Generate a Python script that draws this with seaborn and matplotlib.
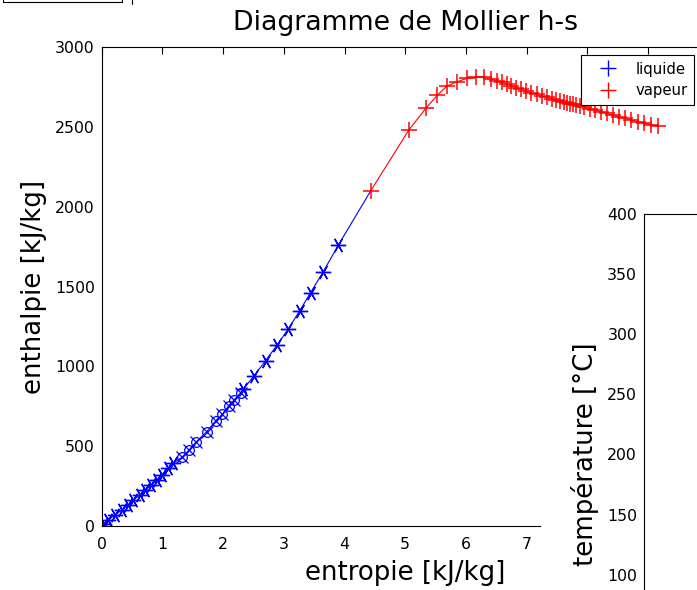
# Mollier h-s diagram (liquid / vapour branches) with a second, partly hidden window

import seaborn as sns
import matplotlib.pyplot as plt
from matplotlib.lines import Line2D
from matplotlib.patches import Rectangle
from matplotlib.ticker import FuncFormatter

# --- data ---
# liquid branch, points drawn with asterisks
s_liq_star = [0.03, 0.11, 0.22, 0.33, 0.44, 0.52, 0.63, 0.71, 0.82, 0.91, 0.99, 1.10, 1.18,
              2.33, 2.51, 2.70, 2.89, 3.07, 3.26, 3.44, 3.65, 3.90]
h_liq_star = [13, 38, 69, 100, 132, 163, 194, 225, 257, 288, 319, 361, 393,
              856, 941, 1035, 1134, 1232, 1347, 1461, 1593, 1760]
# liquid branch, points drawn with circles
s_liq_circ = [1.32, 1.44, 1.56, 1.73, 1.88, 1.99, 2.09, 2.18, 2.29]
h_liq_circ = [430, 476, 528, 591, 659, 701, 752, 789, 835]
# vapour branch
s_vap = [4.43, 5.06, 5.34, 5.53, 5.69, 5.86, 6.02, 6.16, 6.29, 6.42, 6.51, 6.59, 6.67, 6.75,
         6.83, 6.91, 6.99, 7.08, 7.17, 7.26, 7.34, 7.42, 7.49, 7.55, 7.61, 7.66, 7.71, 7.76,
         7.82, 7.88, 7.95, 8.04, 8.13, 8.22, 8.32, 8.42, 8.52, 8.62, 8.72, 8.83, 8.94, 9.05, 9.17]
h_vap = [2098, 2480, 2616, 2699, 2756, 2783, 2804, 2810, 2810, 2798, 2789, 2778, 2768, 2757,
         2746, 2735, 2724, 2713, 2703, 2693, 2684, 2676, 2668, 2662, 2656, 2651, 2646, 2641,
         2636, 2630, 2622, 2613, 2604, 2595, 2584, 2574, 2564, 2553, 2543, 2532, 2522, 2513, 2505]

x_ticks = list(range(0, 11))
y_ticks = list(range(0, 3001, 500))
t_ticks = list(range(0, 401, 50))
x_label_max = 7      # labels further right sit under the other window
t_label_min = 100    # labels lower down fall off the screenshot

# --- style ---
sns.set_style("white", rc={"xtick.direction": "in", "ytick.direction": "in",
                           "text.color": "black", "axes.labelcolor": "black",
                           "xtick.color": "black", "ytick.color": "black"})
plt.rcParams['font.family'] = ['DejaVu Sans']

W, H = 697, 590
fig = plt.figure(figsize=(W / 100, H / 100), dpi=100)

def px(x0, y0, x1, y1):
    # pixel box (top-left origin) -> figure fraction rect
    return [x0 / W, 1 - y1 / H, (x1 - x0) / W, (y1 - y0) / H]

# main axes (extends past the right edge, like the screenshot)
ax = fig.add_axes(px(101.7, 47, 708.7, 526), zorder=0)

# liquid line from the origin up to the first vapour point
s_line = sorted([0.0] + s_liq_star + s_liq_circ) + [s_vap[0]]
h_line = sorted([0] + h_liq_star + h_liq_circ) + [h_vap[0]]
sns.lineplot(x=s_line, y=h_line, ax=ax, color="blue", lw=0.8, sort=False, estimator=None)
ax.plot(s_liq_star, h_liq_star, ls="none", marker=(6, 2, 90), ms=11, mew=1.0, color="blue")
ax.plot(s_liq_circ, h_liq_circ, ls="none", marker="o", ms=7, mew=0.9, mfc="none", color="blue")
ax.plot(s_liq_circ, h_liq_circ, ls="none", marker="x", ms=9, mew=0.9, color="blue")

sns.lineplot(x=s_vap, y=h_vap, ax=ax, color="red", lw=0.8, sort=False, estimator=None)
ax.plot(s_vap, h_vap, ls="none", marker="+", ms=12, mew=1.1, color="red")

ax.set_xlim(0, 10)
ax.set_ylim(0, 3000)
ax.set_xticks(x_ticks)
ax.set_yticks(y_ticks)
ax.xaxis.set_major_formatter(FuncFormatter(lambda v, p: f"{v:g}" if v <= x_label_max else ""))
ax.tick_params(direction="in", length=5, width=0.8, labelsize=11.3, colors="black",
               top=True, right=True, pad=8)
ax.tick_params(axis="y", pad=5)
for sp in ax.spines.values():
    sp.set_color("black")
    sp.set_linewidth(0.8)

ax.set_title("Diagramme de Mollier h-s", fontsize=19.3, pad=12, color="black")
ax.set_xlabel("entropie [kJ/kg]", fontsize=18.7, labelpad=6)
ax.set_ylabel("enthalpie [kJ/kg]", fontsize=18.7, labelpad=6)

handles = [Line2D([], [], color="blue", marker="+", ls="none", ms=11, mew=1.0),
           Line2D([], [], color="red", marker="+", ls="none", ms=11, mew=1.0)]
leg = ax.legend(handles, ["liquide", "vapeur"], loc="upper left",
                bbox_to_anchor=(581 / W, 1 - 55 / H), bbox_transform=fig.transFigure,
                fontsize=10.7, frameon=True, fancybox=False, framealpha=1,
                edgecolor="black", borderpad=0.45, labelspacing=0.45,
                handlelength=2.7, handletextpad=0.5, borderaxespad=0)
leg.get_frame().set_linewidth(0.8)

# the overlapping second window
fig.add_artist(Rectangle((541 / W, 0), 1, 1 - 170 / H, transform=fig.transFigure,
                         facecolor="white", edgecolor="none", zorder=1))

ax2 = fig.add_axes(px(644, 214, 900, 695), zorder=2)
ax2.set_facecolor("white")
ax2.set_ylim(0, 400)
ax2.set_yticks(t_ticks)
ax2.yaxis.set_major_formatter(FuncFormatter(lambda v, p: f"{v:g}" if v >= t_label_min else ""))
ax2.set_xticks([])
ax2.tick_params(axis="y", direction="in", length=5, width=0.8, labelsize=11.3, pad=5,
                colors="black")
for sp in ax2.spines.values():
    sp.set_color("black")
    sp.set_linewidth(0.8)
ax2.set_ylabel("température [°C]", fontsize=18.7, labelpad=6)

# bit of another window frame in the top-left corner
fig.add_artist(Line2D([3 / W, 3 / W, 122 / W, 122 / W], [1, 1 - 2 / H, 1 - 2 / H, 1],
                      transform=fig.transFigure, color="black", lw=0.8))
fig.add_artist(Line2D([132 / W, 132 / W], [1, 1 - 4 / H],
                      transform=fig.transFigure, color="black", lw=0.8))

plt.savefig("out.png", dpi=100)
